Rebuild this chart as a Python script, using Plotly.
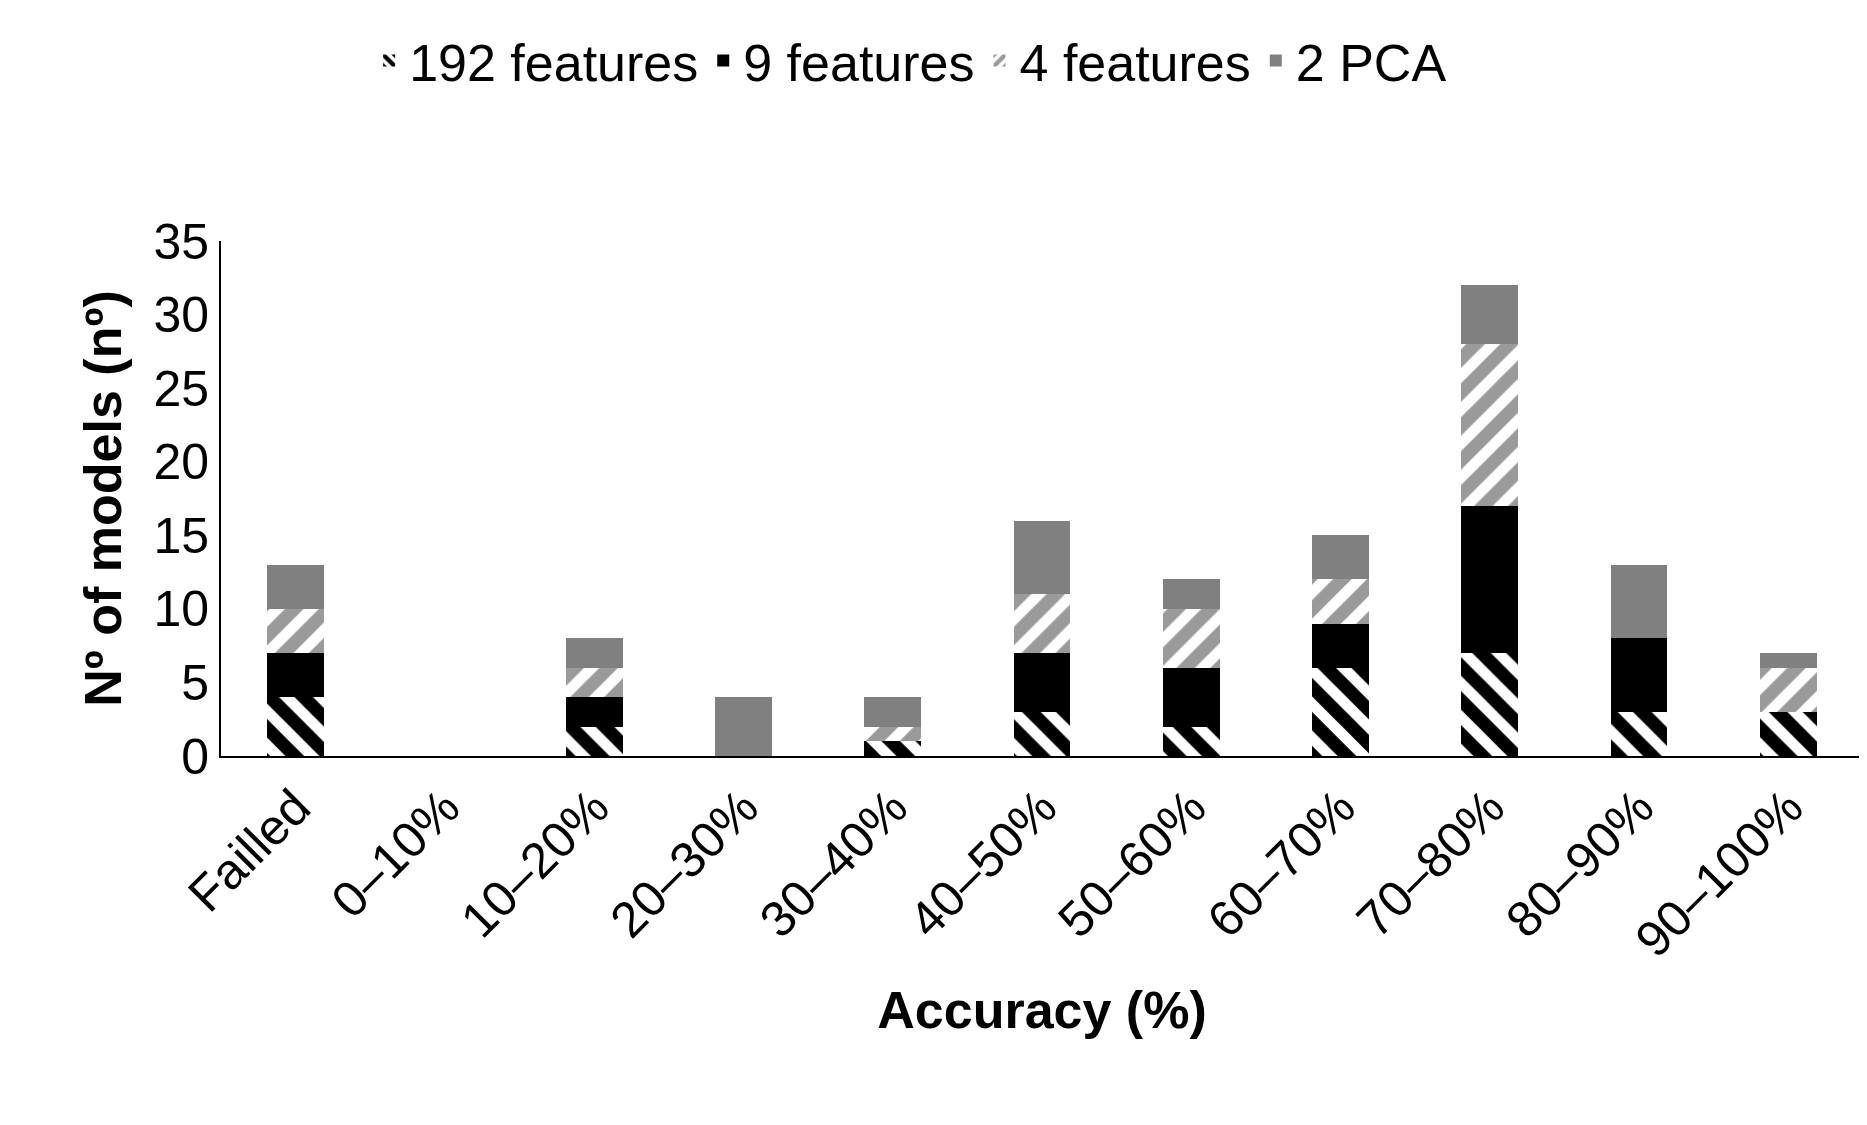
import plotly.graph_objects as go

categories = ["Failled","0–10%","10–20%","20–30%","30–40%","40–50%","50–60%","60–70%","70–80%","80–90%","90–100%"]
f192 = [4,0,2,0,1,3,2,6,7,3,3]
f9 = [3,0,2,0,0,4,4,3,10,5,0]
f4 = [3,0,2,0,1,4,4,3,11,0,3]
pca = [3,0,2,4,2,5,2,3,4,5,1]

fig = go.Figure()
fig.add_bar(x=categories, y=f192, name="192 features",
            marker=dict(color="white", line=dict(width=0),
                        pattern=dict(shape="\\", fgcolor="black", bgcolor="white", fgopacity=1,
                                     size=24, solidity=0.55)))
fig.add_bar(x=categories, y=f9, name="9 features", marker=dict(color="black", line=dict(width=0)))
fig.add_bar(x=categories, y=f4, name="4 features",
            marker=dict(color="white", line=dict(width=0),
                        pattern=dict(shape="/", fgcolor="#9a9a9a", bgcolor="white", fgopacity=1,
                                     size=24, solidity=0.55)))
fig.add_bar(x=categories, y=pca, name="2 PCA", marker=dict(color="#808080", line=dict(width=0)))

font = "Liberation Sans, Arial, sans-serif"
fig.update_layout(
    barmode="stack", bargap=0.62, width=1867, height=1125,
    plot_bgcolor="white", paper_bgcolor="white",
    font=dict(family=font, size=50, color="black"),
    margin=dict(l=213, r=12, t=114, b=377),
    legend=dict(orientation="h", x=0.42, xanchor="center", y=1.35, yanchor="middle",
                font=dict(size=52), itemwidth=30, traceorder="normal"),
    xaxis=dict(tickangle=-45, showline=True, linecolor="black", linewidth=2, ticks="",
               title=dict(text="<b>Accuracy (%)</b>", font=dict(size=52), standoff=25)),
    yaxis=dict(range=[0,35], dtick=5, showgrid=False, showline=True, linecolor="black", linewidth=2,
               ticks="", zeroline=False,
               title=dict(text="<b>Nº of models (nº)</b>", font=dict(size=52), standoff=15)),
)
fig.write_html("out.html")
